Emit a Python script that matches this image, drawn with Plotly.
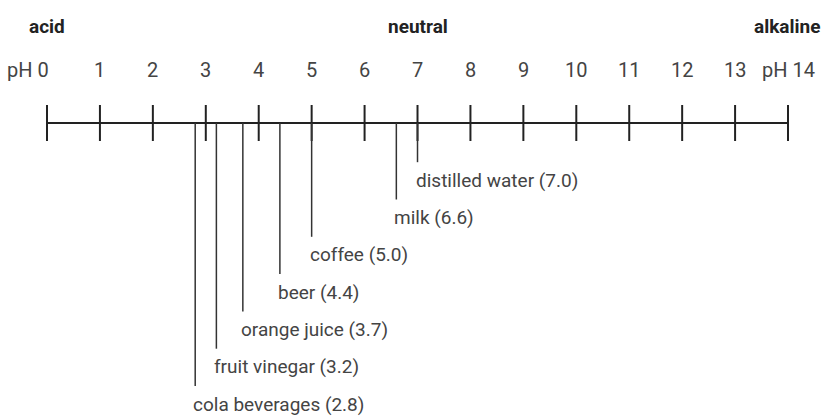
import plotly.graph_objects as go

# ---- data ----
ph_ticks = list(range(0, 15))
tick_labels = ["pH 0", "1", "2", "3", "4", "5", "6", "7", "8", "9", "10", "11", "12", "13", "pH 14"]
substances = ["cola beverages", "fruit vinegar", "orange juice", "beer", "coffee", "milk", "distilled water"]
ph_values = [2.8, 3.2, 3.7, 4.4, 5.0, 6.6, 7.0]
zone_labels = ["acid", "neutral", "alkaline"]
zone_ph = [0, 7, 14]

# ---- layout constants (pixel-like coordinates) ----
W, H = 822, 416
X0_PX, UNIT_PX = 47, 52.93
AXIS_Y = 123
TICK_TOP, TICK_BOT = 105, 141
TICKLABEL_Y = 70
ZONE_Y = 26
LABEL_Y0, LABEL_STEP = 404, -37.3
LINE_GAP = 18
FONT = "Roboto, Liberation Sans, sans-serif"
TXT = "#444444"
LINE = "#222222"

x_range = [-X0_PX / UNIT_PX, (W - X0_PX) / UNIT_PX]
px = 1 / UNIT_PX

fig = go.Figure()

# main axis line
fig.add_trace(go.Scatter(x=[ph_ticks[0], ph_ticks[-1]], y=[AXIS_Y, AXIS_Y], mode="lines",
                         line=dict(color=LINE, width=2), hoverinfo="skip", showlegend=False))
# ticks
tx, ty = [], []
for t in ph_ticks:
    tx += [t, t, None]
    ty += [TICK_TOP, TICK_BOT, None]
fig.add_trace(go.Scatter(x=tx, y=ty, mode="lines", line=dict(color=LINE, width=2),
                         hoverinfo="skip", showlegend=False))

# drop lines, ordered by pH (lowest pH -> deepest)
dx, dy = [], []
annotations = []
for i, (name, v) in enumerate(zip(substances, ph_values)):
    ly = LABEL_Y0 + i * LABEL_STEP
    dx += [v, v, None]
    dy += [AXIS_Y, ly - LINE_GAP, None]
    annotations.append(dict(x=v - 4 * px, y=ly, text=f"{name} ({v:.1f})", xanchor="left",
                            yanchor="middle", showarrow=False,
                            font=dict(family=FONT, size=19, color=TXT)))
fig.add_trace(go.Scatter(x=dx, y=dy, mode="lines", line=dict(color="#333333", width=1.5),
                         hoverinfo="skip", showlegend=False))

# tick labels
for t, lab in zip(ph_ticks, tick_labels):
    if t == ph_ticks[0]:
        annotations.append(dict(x=t + 4 * px, y=TICKLABEL_Y, text=lab, xanchor="right", yanchor="middle",
                                showarrow=False, font=dict(family=FONT, size=20, color=TXT)))
    else:
        annotations.append(dict(x=t, y=TICKLABEL_Y, text=lab, xanchor="center", yanchor="middle",
                                showarrow=False, font=dict(family=FONT, size=20, color=TXT)))

# zone labels
for lab, z in zip(zone_labels, zone_ph):
    if z == zone_ph[-1]:
        annotations.append(dict(x=1.0, xref="paper", y=ZONE_Y, text=f"<b>{lab}</b>", xanchor="right",
                                yanchor="middle", showarrow=False,
                                font=dict(family=FONT, size=19, color="#222222")))
    else:
        annotations.append(dict(x=z, y=ZONE_Y, text=f"<b>{lab}</b>", xanchor="center",
                                yanchor="middle", showarrow=False,
                                font=dict(family=FONT, size=19, color="#222222")))

fig.update_layout(
    width=W, height=H,
    margin=dict(l=0, r=0, t=0, b=0),
    paper_bgcolor="white", plot_bgcolor="white",
    xaxis=dict(range=x_range, visible=False, fixedrange=True),
    yaxis=dict(range=[H, 0], visible=False, fixedrange=True),
    annotations=annotations,
)

fig.write_html("out.html", config={"displayModeBar": False},
               post_script="document.body.style.margin='0';document.body.style.overflow='hidden';")
